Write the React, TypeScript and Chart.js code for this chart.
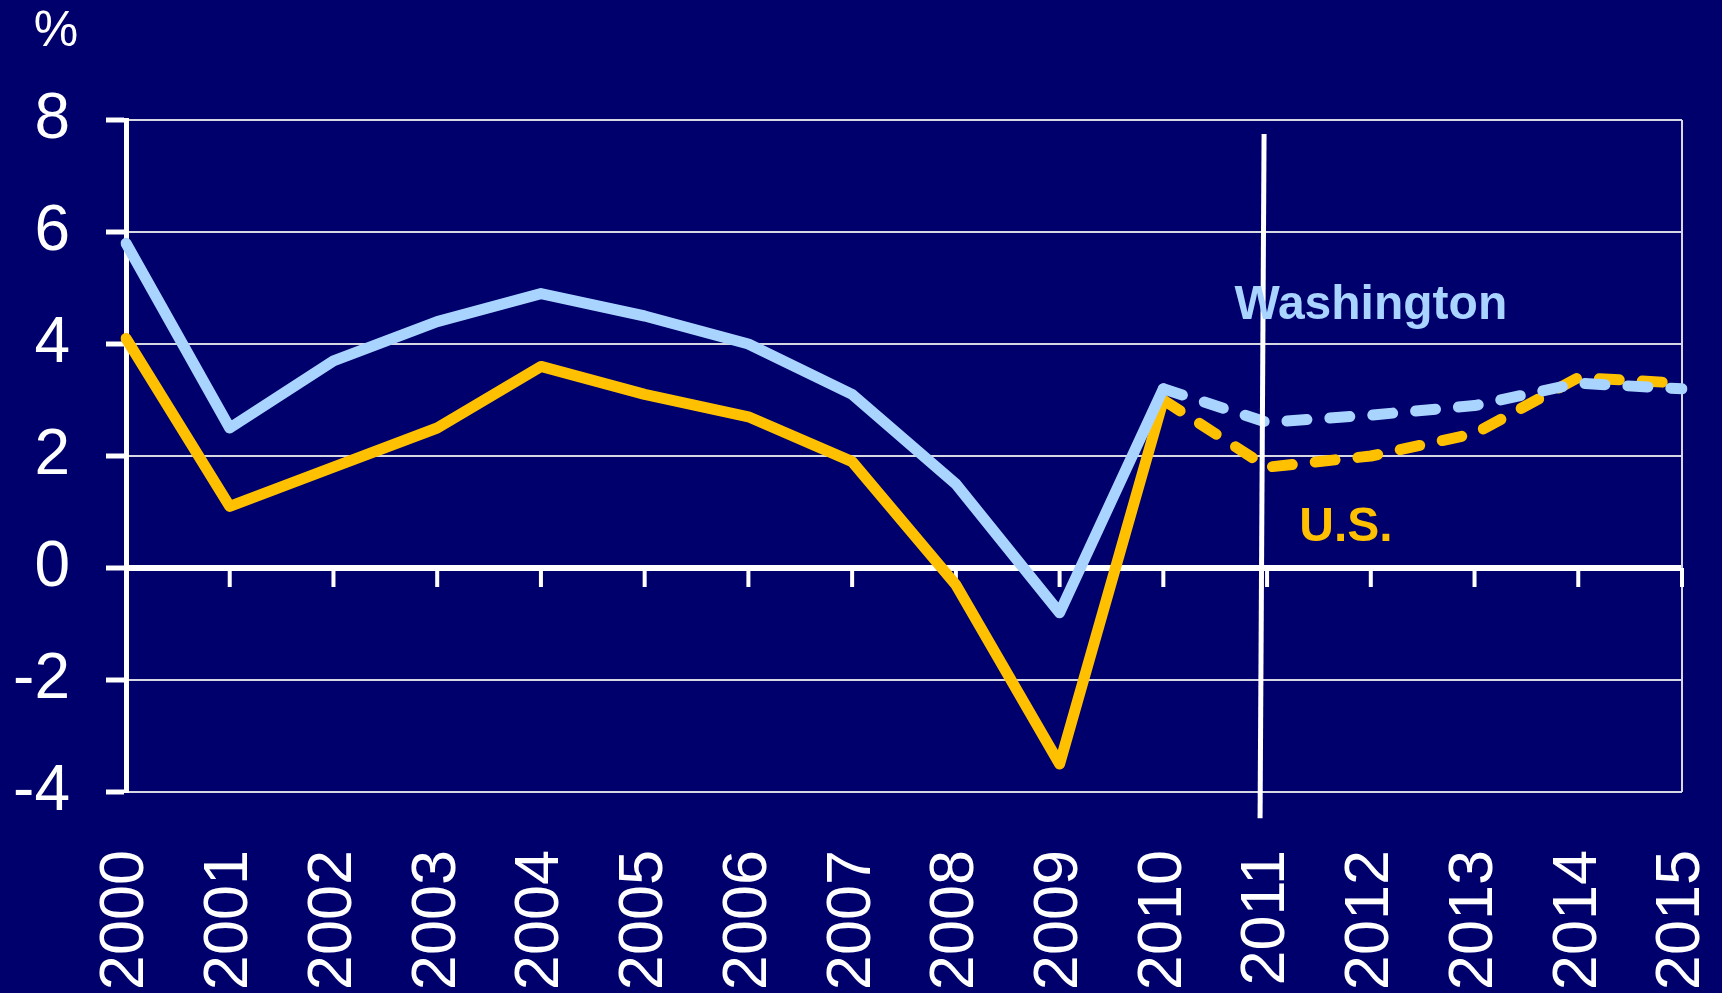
import React, { useEffect, useRef } from 'react';
import { Chart, registerables } from 'chart.js';

Chart.register(...registerables);

// ---- data ----
const years = ['2000', '2001', '2002', '2003', '2004', '2005', '2006', '2007', '2008', '2009', '2010', '2011', '2012', '2013', '2014', '2015'];
const washington = [5.8, 2.5, 3.7, 4.4, 4.9, 4.5, 4.0, 3.1, 1.5, -0.8, 3.2, 2.6, 2.73, 2.9, 3.3, 3.2];
const us = [4.1, 1.1, 1.8, 2.5, 3.6, 3.1, 2.7, 1.9, -0.3, -3.5, 3.0, 1.8, 2.0, 2.4, 3.4, 3.3];
const forecastFromIndex = 10; // dashed segments start at 2010
const forecastLineYear = '2011';
const yMin = -4;
const yMax = 8;
const yStep = 2;
const unitLabel = '%';
const seriesLabels = ['Washington', 'U.S.'];

// ---- styles ----
const BG = '#00006C';
const BLUE = '#A8D4FF';
const ORANGE = '#FFC000';
const GRID = '#D8D8E4';
const FONT = "'Liberation Sans', Arial, sans-serif";

const overlay = {
  id: 'overlay',
  beforeDatasetsDraw(chart: any) {
    const { ctx, chartArea, scales } = chart;
    const x = scales.x;
    const y = scales.y;
    ctx.save();
    // right border of plot
    ctx.strokeStyle = GRID;
    ctx.lineWidth = 2;
    ctx.beginPath();
    ctx.moveTo(chartArea.right, chartArea.top);
    ctx.lineTo(chartArea.right, chartArea.bottom);
    ctx.stroke();
    // tick marks hanging from the zero line
    const y0 = y.getPixelForValue(0);
    ctx.strokeStyle = '#FFFFFF';
    ctx.lineWidth = 4;
    ctx.beginPath();
    for (let i = 1; i < years.length; i++) {
      const px = x.getPixelForValue(i);
      ctx.moveTo(px, y0);
      ctx.lineTo(px, y0 + 19);
    }
    ctx.stroke();
    ctx.restore();
  },
  afterDatasetsDraw(chart: any) {
    const { ctx, scales } = chart;
    const x = scales.x;
    const y = scales.y;
    ctx.save();
    // forecast divider
    const xi = x.getPixelForValue(years.indexOf(forecastLineYear));
    ctx.strokeStyle = '#FFFFFF';
    ctx.lineWidth = 5;
    ctx.beginPath();
    ctx.moveTo(xi - 3, y.getPixelForValue(7.75));
    ctx.lineTo(xi - 7, y.getPixelForValue(-4.47));
    ctx.stroke();
    // series labels
    ctx.textAlign = 'center';
    ctx.textBaseline = 'alphabetic';
    ctx.font = `bold 48px ${FONT}`;
    ctx.fillStyle = BLUE;
    ctx.fillText(seriesLabels[0], x.getPixelForValue(12), y.getPixelForValue(4.45));
    ctx.fillStyle = ORANGE;
    ctx.fillText(seriesLabels[1], x.getPixelForValue(11.76), y.getPixelForValue(0.49));
    // unit label
    ctx.font = `50px ${FONT}`;
    ctx.fillStyle = '#FFFFFF';
    ctx.fillText(unitLabel, 56, 46);
    ctx.restore();
  },
};

export default function App() {
  const ref = useRef<HTMLCanvasElement | null>(null);

  useEffect(() => {
    if (!ref.current) return;
    const dash = (ctx: any) => (ctx.p0DataIndex >= forecastFromIndex ? [20, 23] : undefined);
    const chart = new Chart(ref.current, {
      type: 'line',
      data: {
        labels: years,
        datasets: [
          {
            label: seriesLabels[0],
            data: washington,
            borderColor: BLUE,
            backgroundColor: BLUE,
            borderWidth: 11,
            pointRadius: 0,
            borderCapStyle: 'round',
            borderJoinStyle: 'round',
            tension: 0,
            segment: { borderDash: dash },
          },
          {
            label: seriesLabels[1],
            data: us,
            borderColor: ORANGE,
            backgroundColor: ORANGE,
            borderWidth: 11,
            pointRadius: 0,
            borderCapStyle: 'round',
            borderJoinStyle: 'round',
            tension: 0,
            segment: { borderDash: dash },
          },
        ],
      },
      options: {
        responsive: false,
        animation: false,
        devicePixelRatio: 1,
        layout: { padding: { left: 13, top: 120, right: 40, bottom: 0 } },
        plugins: {
          legend: { display: false },
          tooltip: { enabled: false },
        },
        scales: {
          x: {
            type: 'category',
            offset: false,
            grid: { display: false, drawTicks: false },
            border: { display: false },
            ticks: {
              color: '#FFFFFF',
              font: { family: FONT, size: 63 },
              minRotation: 90,
              maxRotation: 90,
              autoSkip: false,
              padding: 58,
            },
            afterFit: (scale: any) => {
              scale.height = 201;
              scale.paddingLeft = 0;
              scale.paddingRight = 0;
            },
          },
          y: {
            min: yMin,
            max: yMax,
            ticks: {
              stepSize: yStep,
              color: '#FFFFFF',
              font: { family: FONT, size: 64 },
              padding: 36,
            },
            grid: {
              color: (c: any) => (c.tick && c.tick.value === 0 ? '#FFFFFF' : GRID),
              lineWidth: (c: any) => (c.tick && c.tick.value === 0 ? 6 : 2),
              drawTicks: true,
              tickLength: 20,
              tickWidth: 5,
              tickColor: '#FFFFFF',
            },
            border: { display: true, color: '#FFFFFF', width: 5 },
            afterFit: (scale: any) => {
              scale.width = 113;
              scale.paddingTop = 0;
              scale.paddingBottom = 0;
            },
          },
        },
      },
      plugins: [overlay],
    } as any);
    return () => chart.destroy();
  }, []);

  return (
    <div style={{ position: 'fixed', left: 0, top: 0, width: 1722, height: 993, background: BG }}>
      <canvas ref={ref} width={1722} height={993} style={{ display: 'block' }} />
    </div>
  );
}
